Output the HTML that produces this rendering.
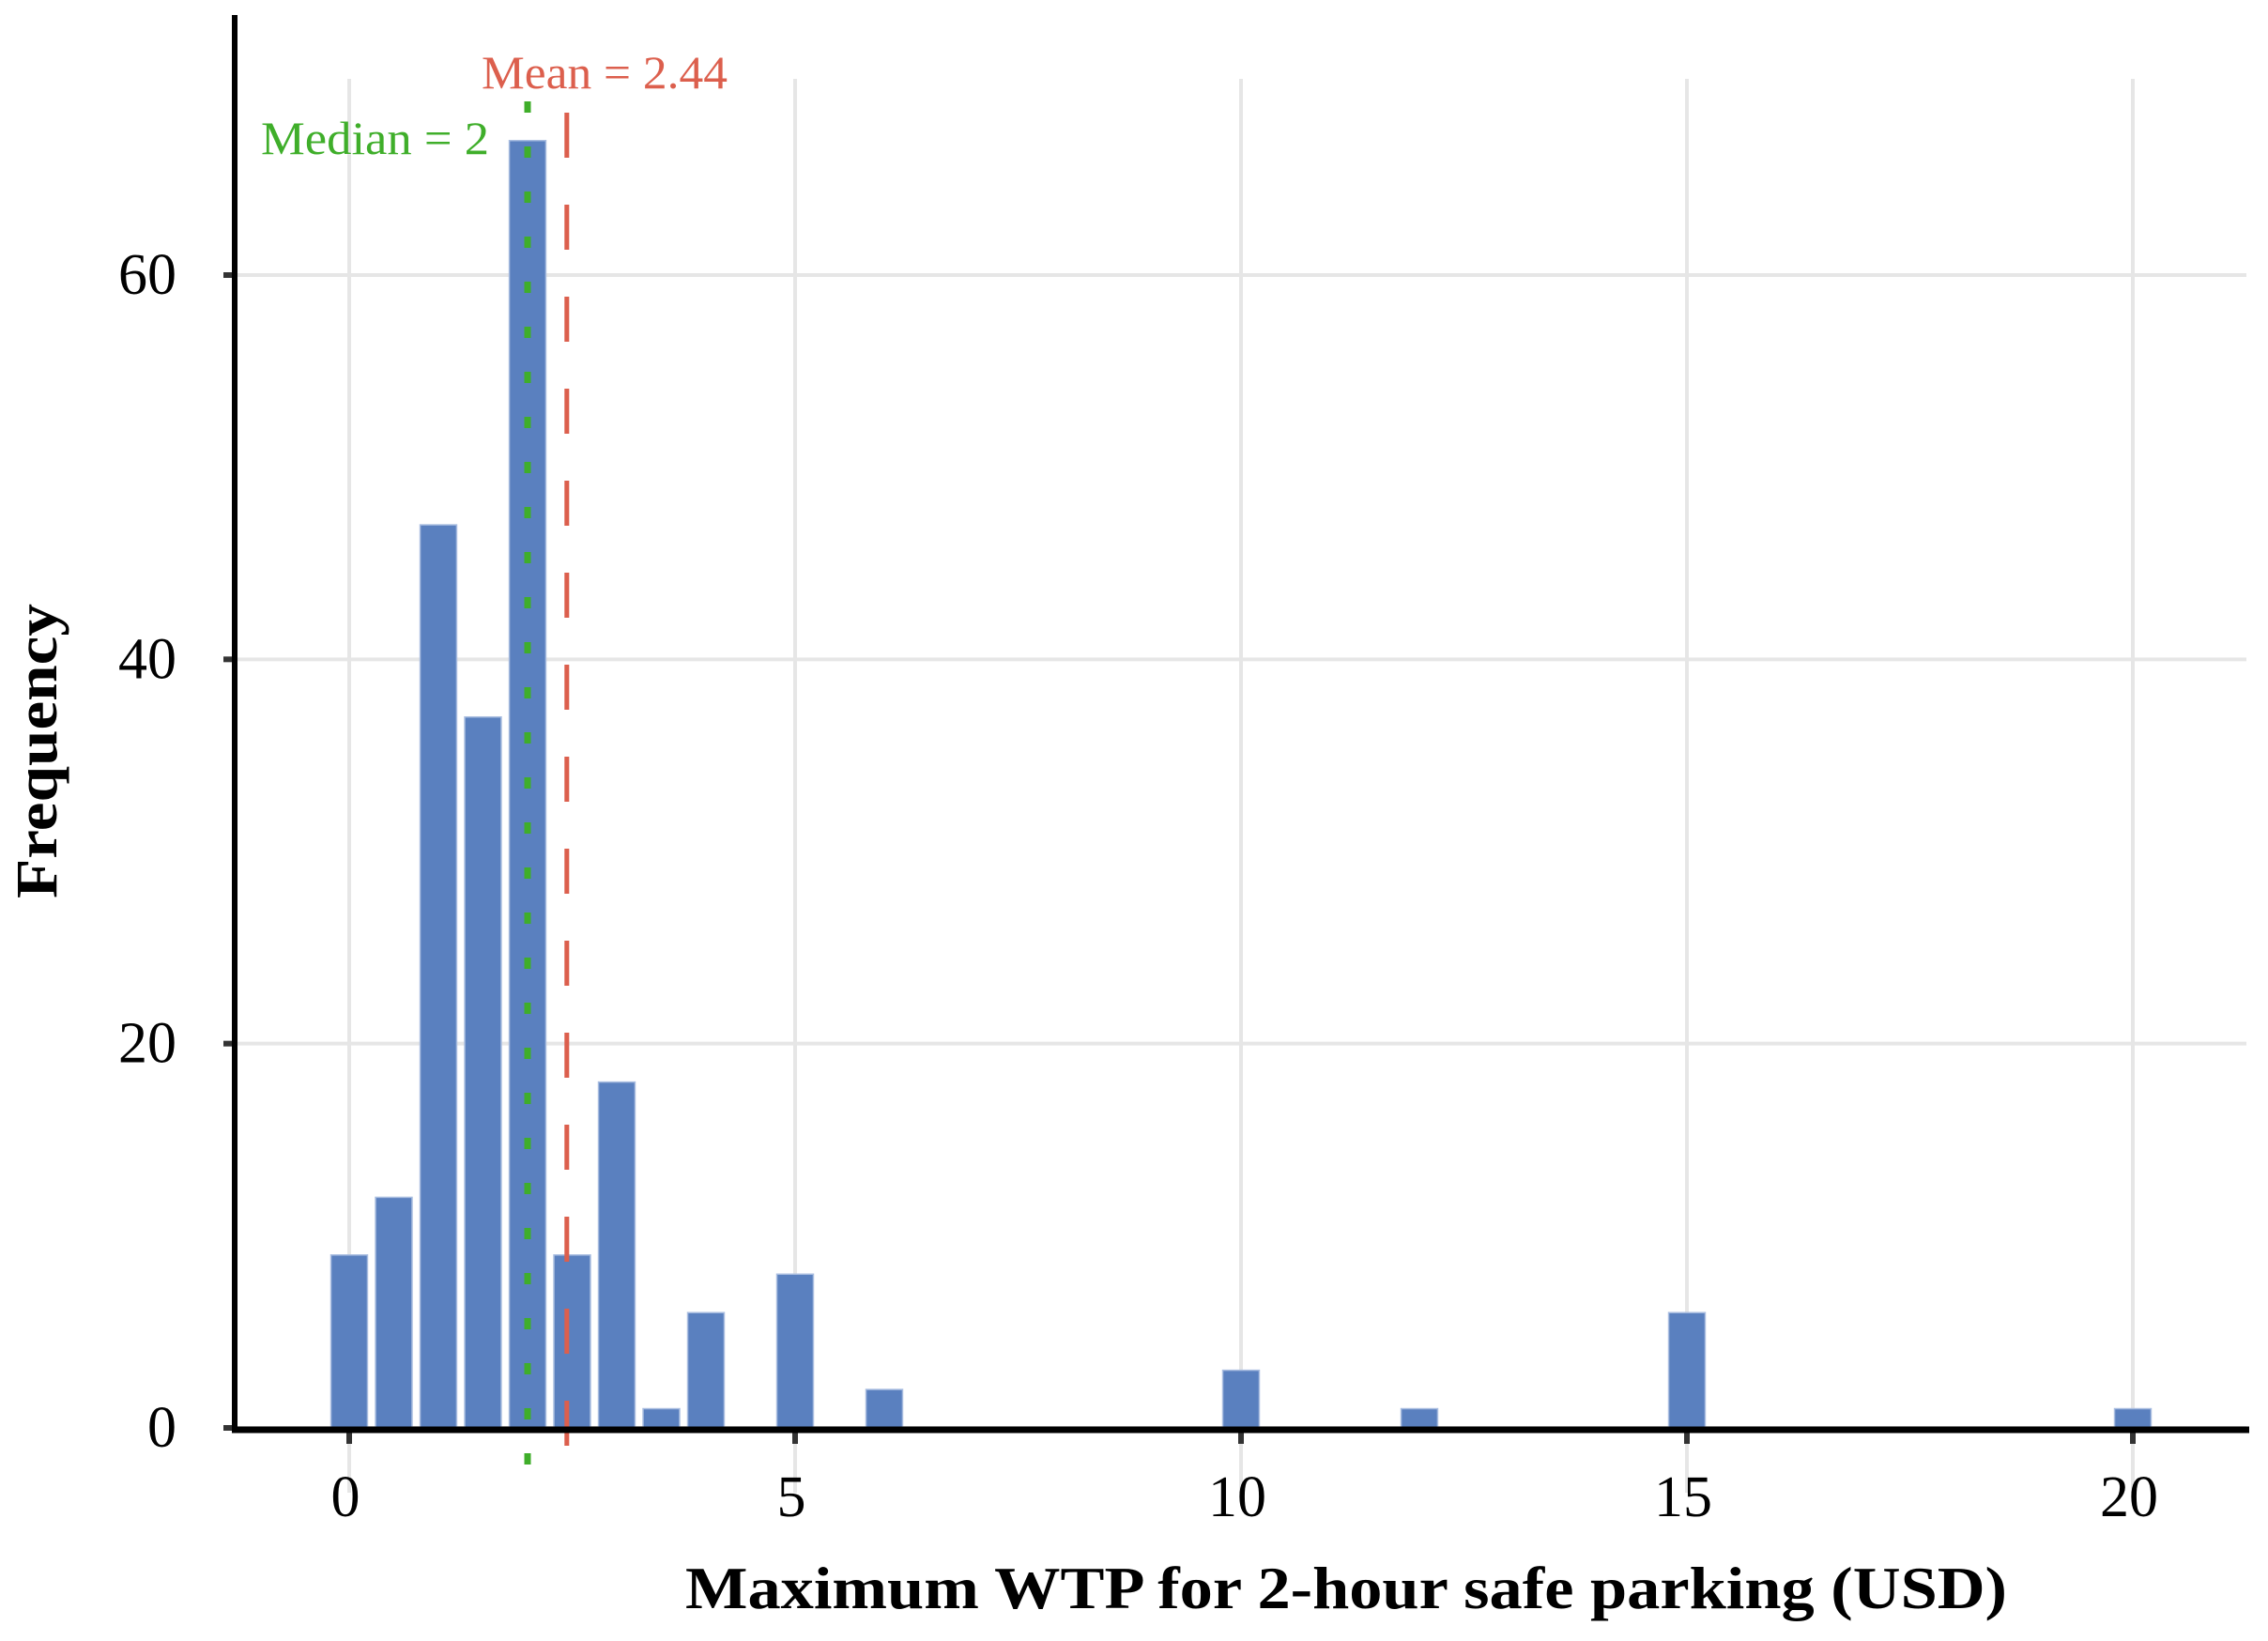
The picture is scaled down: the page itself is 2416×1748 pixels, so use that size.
<!DOCTYPE html>
<html><head><meta charset="utf-8"><style>
html,body{margin:0;padding:0;background:#fff}
svg{display:block}
text{font-family:"Liberation Serif",serif}
</style></head><body>
<svg id="chart" width="2416" height="1748" viewBox="0 0 2416 1748" xmlns="http://www.w3.org/2000/svg">
<g id="grid"></g>
<g id="bars"></g>
<g id="refs"></g>
<g id="axes"></g>
<text x="0" y="0" transform="translate(60,800) rotate(-90)" text-anchor="middle" font-size="62" font-weight="bold" textLength="314" lengthAdjust="spacingAndGlyphs">Frequency</text>
<text x="730" y="1713" font-size="64" font-weight="bold" textLength="1408" lengthAdjust="spacingAndGlyphs">Maximum WTP for 2-hour safe parking (USD)</text>
</svg>
<script>
const binCenters = [0, 0.5, 1, 1.5, 2, 2.5, 3, 3.5, 4, 5, 6, 10, 12, 15, 20];
const counts = [9, 12, 47, 37, 67, 9, 18, 1, 6, 8, 2, 3, 1, 6, 1];
const xTicks = [0, 5, 10, 15, 20];
const yTicks = [0, 20, 40, 60];
const medianValue = 2;
const meanValue = 2.44;
const medianLabel = "Median = 2";
const meanLabel = "Mean = 2.44";

const NS = "http://www.w3.org/2000/svg";
const X0 = 372, XU = 95, Y0 = 1521, YU = (1521 - 293) / 60;
const xs = v => X0 + v * XU;
const ys = v => Y0 - v * YU;
function mk(tag, attrs, parent) {
  const e = document.createElementNS(NS, tag);
  for (const k in attrs) e.setAttribute(k, attrs[k]);
  parent.appendChild(e);
  return e;
}
const grid = document.getElementById('grid');
const bars = document.getElementById('bars');
const refs = document.getElementById('refs');
const axes = document.getElementById('axes');

yTicks.forEach(t => {
  const l = mk('line', {x1: 252, x2: 2393, y1: ys(t), y2: ys(t), stroke: '#e6e6e6', 'stroke-width': 4}, grid);
  
  
  const tx = mk('text', {x: 188, y: ys(t) + 20, 'text-anchor': 'end', 'font-size': 62}, axes);
  tx.textContent = t;
  
  
  const tk = mk('line', {x1: 238, x2: 252, y1: ys(t), y2: ys(t), stroke: '#333', 'stroke-width': 6}, axes);
  
  
});
xTicks.forEach(t => {
  const l = mk('line', {x1: xs(t), x2: xs(t), y1: 84, y2: 1590, stroke: '#e6e6e6', 'stroke-width': 4}, grid);
  
  
  const tx = mk('text', {x: xs(t) - 4, y: 1615, 'text-anchor': 'middle', 'font-size': 62}, axes);
  tx.textContent = t;
  
  
  const tk = mk('line', {x1: xs(t), x2: xs(t), y1: 1525, y2: 1538, stroke: '#333', 'stroke-width': 6}, axes);
  
  
});
const bw = 0.41 * XU;
binCenters.forEach((c, i) => {
  const r = mk('rect', {x: xs(c) - bw / 2, y: ys(counts[i]), width: bw, height: Y0 - ys(counts[i]), fill: '#5a80bf', stroke: '#a9bde0', 'stroke-width': 1.5}, bars);
  
  
});
const md = mk('line', {x1: xs(medianValue), x2: xs(medianValue), y1: 108, y2: 1590, stroke: '#3fae2a', 'stroke-width': 7, 'stroke-dasharray': '12 36'}, refs);


const mn = mk('line', {x1: xs(meanValue), x2: xs(meanValue), y1: 120, y2: 1590, stroke: '#dc5f4d', 'stroke-width': 5, 'stroke-dasharray': '48 50'}, refs);


const mdt = mk('text', {x: 278, y: 164, 'font-size': 50, fill: '#3fae2a', textLength: 243, lengthAdjust: 'spacingAndGlyphs'}, refs);
mdt.textContent = medianLabel;


const mnt = mk('text', {x: 513, y: 94, 'font-size': 50, fill: '#dc5f4d', textLength: 262, lengthAdjust: 'spacingAndGlyphs'}, refs);
mnt.textContent = meanLabel;



const ya = mk('line', {x1: 250, x2: 250, y1: 16, y2: 1526, stroke: '#000', 'stroke-width': 6}, axes);


const xa = mk('line', {x1: 247, x2: 2396, y1: 1523, y2: 1523, stroke: '#000', 'stroke-width': 7}, axes);


</script>
</body></html>
